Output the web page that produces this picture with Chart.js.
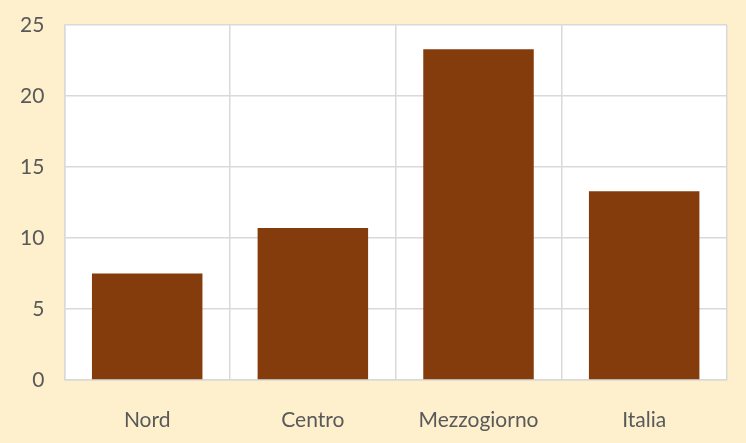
<!DOCTYPE html>
<html>
<head>
<meta charset="utf-8">
<script src="https://cdn.jsdelivr.net/npm/chart.js@4"></script>
<style>
  html, body { margin: 0; padding: 0; background: #FEF0CD; }
  #wrap { width: 746px; height: 443px; }
</style>
</head>
<body>
<div id="wrap"><canvas id="chart"></canvas></div>
<script>
const categories = ["Nord", "Centro", "Mezzogiorno", "Italia"];
const values = [7.5, 10.7, 23.3, 13.3];

// white plot area behind the bars
const plotBg = {
  id: 'plotBg',
  beforeDraw(chart) {
    const { ctx, chartArea: a } = chart;
    ctx.save();
    ctx.fillStyle = '#ffffff';
    ctx.fillRect(a.left, a.top, a.right - a.left, a.bottom - a.top);
    ctx.restore();
  }
};

new Chart(document.getElementById('chart'), {
  type: 'bar',
  data: {
    labels: categories,
    datasets: [{
      data: values,
      backgroundColor: '#843C0C',
      categoryPercentage: 0.667,
      barPercentage: 1.0
    }]
  },
  options: {
    responsive: true,
    maintainAspectRatio: false,
    animation: false,
    layout: { padding: { top: 0, right: 19, bottom: 0, left: 0 } },
    plugins: { legend: { display: false }, tooltip: { enabled: false } },
    scales: {
      x: {
        afterFit(scale) { scale.height = 63; },
        grid: { color: '#D9D9D9', lineWidth: 1.5, offset: true, drawTicks: false },
        border: { color: '#D9D9D9', width: 1.5 },
        ticks: { color: '#595959', font: { family: 'Lato', size: 21 }, padding: 28 }
      },
      y: {
        min: 0,
        max: 25,
        afterFit(scale) { scale.paddingTop = 25; },
        grid: { color: '#D9D9D9', lineWidth: 1.5, drawTicks: false },
        border: { color: '#D9D9D9', width: 1.5 },
        ticks: { stepSize: 5, color: '#595959', font: { family: 'Lato', size: 21 }, padding: 20 }
      }
    }
  },
  plugins: [plotBg]
});
</script>
</body>
</html>
